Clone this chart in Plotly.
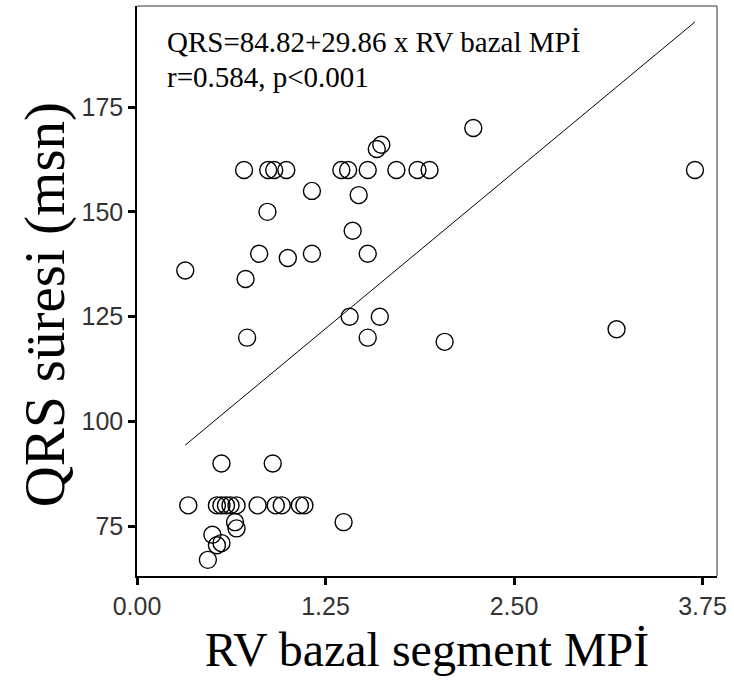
import plotly.graph_objects as go

# Data
mpi = [0.71, 0.87, 0.91, 0.99, 1.355, 1.40, 1.53, 1.72, 1.86, 1.94, 3.70,
       1.59, 1.62, 2.23,
       1.16, 1.47, 0.865, 1.43,
       0.32, 0.81, 0.72, 1.00, 1.16, 1.53,
       0.73, 1.41, 1.61, 1.53, 2.04, 3.18,
       0.56, 0.90,
       0.34, 0.53, 0.56, 0.59, 0.62, 0.66, 0.80, 0.92, 0.96, 1.08, 1.11,
       0.65, 0.66, 0.50, 0.56, 0.53, 0.47, 1.37]
qrs = [160, 160, 160, 160, 160, 160, 160, 160, 160, 160, 160,
       165, 166, 170,
       155, 154, 150, 145.5,
       136, 140, 134, 139, 140, 140,
       120, 125, 125, 120, 119, 122,
       90, 90,
       80, 80, 80, 80, 80, 80, 80, 80, 80, 80, 80,
       76, 74.5, 73, 71, 70.5, 67, 76]

intercept = 84.82
slope = 29.86

x_ticks = [0.0, 1.25, 2.50, 3.75]
x_tick_labels = ["0.00", "1.25", "2.50", "3.75"]
y_ticks = [75, 100, 125, 150, 175]
y_tick_labels = ["75", "100", "125", "150", "175"]

eq_text = "QRS=84.82+29.86 x RV bazal MPİ"
r_text = "r=0.584, p&lt;0.001"
x_title = "RV bazal segment MPİ"
y_title = "QRS süresi (msn)"

fit_x = [min(mpi), max(mpi)]
fit_y = [intercept + slope * v for v in fit_x]

fig = go.Figure()
fig.add_trace(go.Scatter(
    x=fit_x, y=fit_y, mode="lines",
    line=dict(color="black", width=1), hoverinfo="skip", showlegend=False))
fig.add_trace(go.Scatter(
    x=mpi, y=qrs, mode="markers",
    marker=dict(symbol="circle-open", size=17, color="black",
                line=dict(color="black", width=1.4)),
    showlegend=False))

tick_font = dict(family="Arial, Liberation Sans, sans-serif", size=25, color="#333")
serif = "Liberation Serif, Times New Roman, serif"

fig.update_layout(
    width=734, height=685,
    margin=dict(l=137, r=17, t=6, b=109),
    paper_bgcolor="white", plot_bgcolor="white",
    xaxis=dict(range=[0, 3.846], tickvals=x_ticks, ticktext=x_tick_labels,
               showgrid=False, zeroline=False, showline=True, linecolor="black",
               linewidth=1.5, ticks="outside", ticklen=7,
               tickwidth=2.5, tickcolor="black", tickfont=tick_font,
               title=dict(text=x_title, font=dict(family=serif, size=48, color="black"),
                          standoff=14)),
    yaxis=dict(range=[63.15, 199.1], tickvals=y_ticks, ticktext=y_tick_labels,
               showgrid=False, zeroline=False, showline=True, linecolor="black",
               linewidth=1.5, ticks="outside", ticklen=7,
               tickwidth=2.5, tickcolor="black", tickfont=tick_font),
    shapes=[
        dict(type="line", xref="paper", yref="paper", x0=0, x1=1, y0=1, y1=1,
             line=dict(color="#777", width=1.5)),
        dict(type="line", xref="paper", yref="paper", x0=1, x1=1, y0=0, y1=1,
             line=dict(color="#777", width=1.5)),
    ],
    annotations=[
        dict(text=y_title, xref="paper", yref="paper",
             x=(45 - 137) / 580, y=(575.7 - 305) / 570,
             xanchor="center", yanchor="middle", textangle=-90, showarrow=False,
             font=dict(family=serif, size=57, color="black")),
        dict(text=eq_text, xref="paper", yref="paper", x=0.0476, y=(575.7 - 41.7) / 570,
             xanchor="left", yanchor="middle", showarrow=False,
             font=dict(family=serif, size=29, color="black")),
        dict(text=r_text, xref="paper", yref="paper", x=0.0476, y=(575.7 - 76.7) / 570,
             xanchor="left", yanchor="middle", showarrow=False,
             font=dict(family=serif, size=29, color="black")),
    ],
)

fig.write_html("out.html")
